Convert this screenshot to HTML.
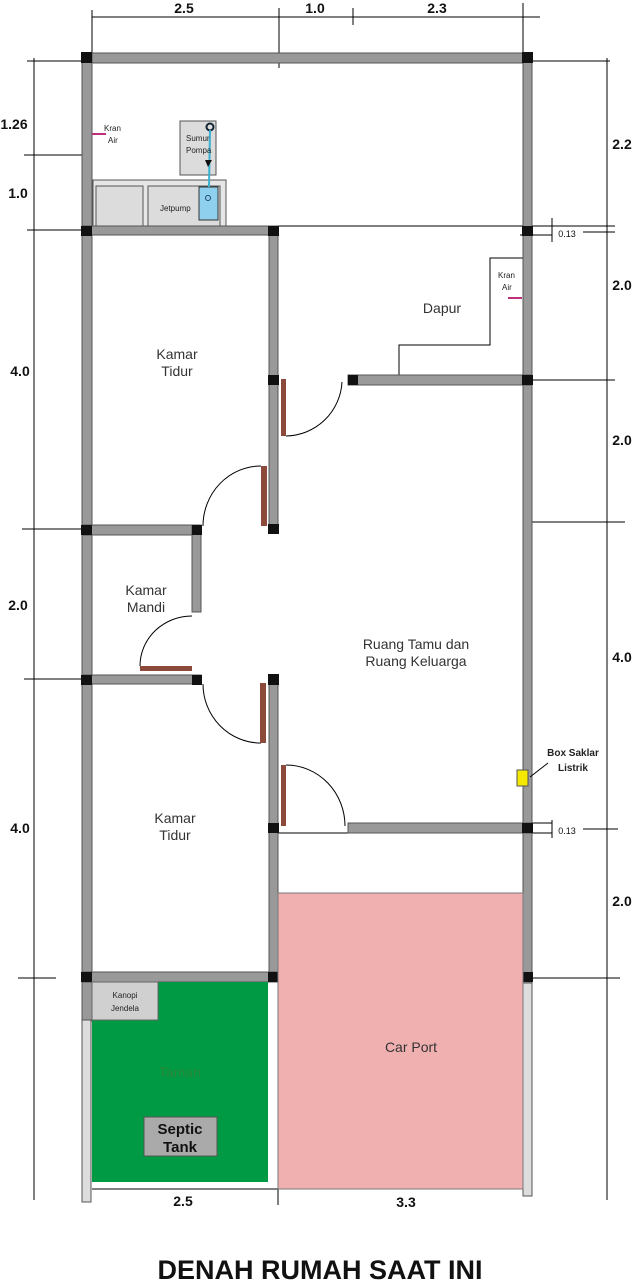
<!DOCTYPE html>
<html><head><meta charset="utf-8"><style>
html,body{margin:0;padding:0;background:#fff}
svg{display:block}
text{font-family:"Liberation Sans",sans-serif}
</style></head><body>
<svg width="633" height="1280" viewBox="0 0 633 1280" xmlns="http://www.w3.org/2000/svg">
<g stroke="#000" stroke-width="1" fill="none">
<!-- top dims -->
<line x1="92" y1="17" x2="540" y2="17"/>
<line x1="92" y1="10" x2="92" y2="60"/>
<line x1="279" y1="8" x2="279" y2="68"/>
<line x1="353" y1="8" x2="353" y2="25"/>
<line x1="523" y1="3" x2="523" y2="60"/>
<!-- left dims -->
<line x1="34" y1="58" x2="34" y2="1200"/>
<line x1="27" y1="61" x2="82" y2="61"/>
<line x1="24" y1="155" x2="92" y2="155"/>
<line x1="27" y1="230" x2="82" y2="230"/>
<line x1="22" y1="529" x2="82" y2="529"/>
<line x1="24" y1="679" x2="82" y2="679"/>
<line x1="18" y1="978" x2="56" y2="978"/>
<!-- right dims -->
<line x1="607" y1="58" x2="607" y2="1200"/>
<line x1="532" y1="61" x2="610" y2="61"/>
<line x1="520" y1="235" x2="552" y2="235"/>
<line x1="532" y1="226" x2="615" y2="226"/>
<line x1="583" y1="232" x2="615" y2="232"/>
<line x1="552" y1="218" x2="552" y2="242"/>
<line x1="532" y1="380" x2="615" y2="380"/>
<line x1="532" y1="522" x2="625" y2="522"/>
<line x1="532" y1="823" x2="552" y2="823"/>
<line x1="532" y1="833" x2="552" y2="833"/>
<line x1="552" y1="820" x2="552" y2="838"/>
<line x1="583" y1="829" x2="618" y2="829"/>
<line x1="532" y1="978" x2="620" y2="978"/>
<!-- thin lines -->
<line x1="278" y1="226" x2="523" y2="226"/>
<polyline points="399,375 399,345 490,345 490,258 523,258"/>
<line x1="278" y1="833" x2="348" y2="833"/>
<line x1="92" y1="1189" x2="523" y2="1189"/>
<line x1="278" y1="1185" x2="278" y2="1205"/>
<!-- door arcs -->
<path d="M286 436 A57 57 0 0 0 342 382"/>
<path d="M261 466 A58 60 0 0 0 203 526"/>
<path d="M140 666 A52 50 0 0 1 192 616"/>
<path d="M203 684 A58 59 0 0 0 261 743"/>
<path d="M286 765 A59 61 0 0 1 345 826"/>
</g>
<!-- top area furniture -->
<rect x="93" y="180" width="133" height="46" fill="#e6e6e6" stroke="#555"/>
<rect x="96" y="186" width="47" height="40" fill="#dcdcdc" stroke="#555"/>
<rect x="148" y="186" width="72" height="40" fill="#dcdcdc" stroke="#555"/>
<rect x="199" y="187" width="19" height="33" fill="#8fd0ef" stroke="#333"/>
<circle cx="208" cy="198" r="2.5" fill="none" stroke="#246"/>
<rect x="180" y="121" width="36" height="54" fill="#dcdcdc" stroke="#555"/>
<circle cx="210" cy="127" r="3.5" fill="none" stroke="#123" stroke-width="2"/>
<line x1="210" y1="130" x2="209" y2="187" stroke="#3ab0d0" stroke-width="2"/>
<polygon points="205,160 212,160 208,167" fill="#111"/>
<text x="186" y="141" font-size="8" fill="#222">Sumur</text>
<text x="186" y="153" font-size="8" fill="#222">Pompa</text>
<text x="160" y="211" font-size="8" fill="#222">Jetpump</text>
<!-- walls -->
<g fill="#999" stroke="#555" stroke-width="1">
<rect x="82" y="53" width="450" height="10"/>
<rect x="82" y="53" width="10" height="968"/>
<rect x="523" y="53" width="9" height="930"/>
<rect x="82" y="226" width="196" height="9"/>
<rect x="269" y="226" width="9" height="307"/>
<rect x="348" y="375" width="184" height="10"/>
<rect x="82" y="525" width="119" height="10"/>
<rect x="192" y="525" width="9" height="87"/>
<rect x="82" y="675" width="119" height="9"/>
<rect x="269" y="675" width="9" height="307"/>
<rect x="348" y="823" width="184" height="10"/>
<rect x="82" y="972" width="196" height="10"/>
</g>
<rect x="82" y="1020" width="9" height="182" fill="#ddd" stroke="#555"/>
<rect x="523" y="983" width="9" height="213" fill="#ddd" stroke="#555"/>
<!-- pillars -->
<g fill="#111">
<rect x="81" y="52" width="11" height="11"/><rect x="522" y="52" width="11" height="11"/>
<rect x="81" y="226" width="11" height="10"/><rect x="268" y="226" width="11" height="10"/>
<rect x="522" y="226" width="11" height="10"/>
<rect x="268" y="375" width="11" height="10"/><rect x="348" y="375" width="10" height="10"/><rect x="522" y="375" width="11" height="10"/>
<rect x="81" y="525" width="11" height="10"/><rect x="192" y="525" width="10" height="10"/><rect x="268" y="524" width="11" height="10"/>
<rect x="81" y="675" width="11" height="10"/><rect x="192" y="675" width="10" height="10"/><rect x="268" y="674" width="11" height="11"/>
<rect x="268" y="823" width="11" height="10"/><rect x="522" y="823" width="11" height="10"/>
<rect x="81" y="972" width="11" height="10"/><rect x="268" y="972" width="11" height="10"/><rect x="522" y="972" width="11" height="10"/>
</g>
<!-- doors -->
<g fill="#8b4a3a">
<rect x="281" y="379" width="5" height="57"/>
<rect x="261" y="466" width="6" height="60"/>
<rect x="140" y="666" width="52" height="5"/>
<rect x="260" y="683" width="6" height="60"/>
<rect x="281" y="765" width="5" height="61"/>
</g>
<!-- kran -->
<line x1="92" y1="134" x2="106" y2="134" stroke="#c0307a" stroke-width="2"/>
<line x1="508" y1="298" x2="522" y2="298" stroke="#c0307a" stroke-width="2"/>
<text x="104" y="131" font-size="8" fill="#222">Kran</text>
<text x="108" y="143" font-size="8" fill="#222">Air</text>
<text x="498" y="278" font-size="8" fill="#222">Kran</text>
<text x="502" y="290" font-size="8" fill="#222">Air</text>
<!-- saklar -->
<rect x="517" y="770" width="11" height="16" fill="#f5e800" stroke="#555"/>
<line x1="530" y1="777" x2="548" y2="763" stroke="#000"/>
<text x="573" y="756" font-size="10" font-weight="bold" fill="#222" text-anchor="middle">Box Saklar</text>
<text x="573" y="771" font-size="10" font-weight="bold" fill="#222" text-anchor="middle">Listrik</text>
<!-- lower areas -->
<rect x="92" y="982" width="176" height="200" fill="#009a44"/>
<rect x="92" y="982" width="66" height="38" fill="#d0d0d0" stroke="#666"/>
<text x="125" y="998" font-size="8" fill="#222" text-anchor="middle">Kanopi</text>
<text x="125" y="1011" font-size="8" fill="#222" text-anchor="middle">Jendela</text>
<text x="180" y="1077" font-size="14" fill="#2a8a3a" text-anchor="middle">Taman</text>
<rect x="144" y="1117" width="73" height="39" fill="#aaa" stroke="#555"/>
<text x="180" y="1134" font-size="15" font-weight="bold" fill="#111" text-anchor="middle">Septic</text>
<text x="180" y="1152" font-size="15" font-weight="bold" fill="#111" text-anchor="middle">Tank</text>
<rect x="278" y="893" width="245" height="296" fill="#f0b0b0" stroke="#777"/>
<text x="411" y="1052" font-size="14" fill="#333" text-anchor="middle">Car Port</text>
<!-- room labels -->
<g font-size="14" fill="#333" text-anchor="middle">
<text x="177" y="359">Kamar</text><text x="177" y="376">Tidur</text>
<text x="442" y="313">Dapur</text>
<text x="146" y="595">Kamar</text><text x="146" y="612">Mandi</text>
<text x="416" y="649">Ruang Tamu dan</text><text x="416" y="666">Ruang Keluarga</text>
<text x="175" y="823">Kamar</text><text x="175" y="840">Tidur</text>
</g>
<!-- dim labels -->
<g font-size="14" font-weight="bold" fill="#111" text-anchor="middle">
<text x="184" y="13">2.5</text><text x="315" y="13">1.0</text><text x="437" y="13">2.3</text>
<text x="14" y="129">1.26</text><text x="18" y="198">1.0</text><text x="20" y="376">4.0</text>
<text x="18" y="610">2.0</text><text x="20" y="833">4.0</text>
<text x="622" y="149">2.2</text><text x="622" y="290">2.0</text><text x="622" y="445">2.0</text>
<text x="622" y="662">4.0</text><text x="622" y="906">2.0</text>
<text x="183" y="1206">2.5</text><text x="406" y="1207">3.3</text>
</g>
<text x="567" y="237" font-size="9" fill="#111" text-anchor="middle">0.13</text>
<text x="567" y="834" font-size="9" fill="#111" text-anchor="middle">0.13</text>
<text x="320" y="1279" font-size="27" font-weight="bold" fill="#111" text-anchor="middle">DENAH RUMAH SAAT INI</text>
</svg>
</body></html>
